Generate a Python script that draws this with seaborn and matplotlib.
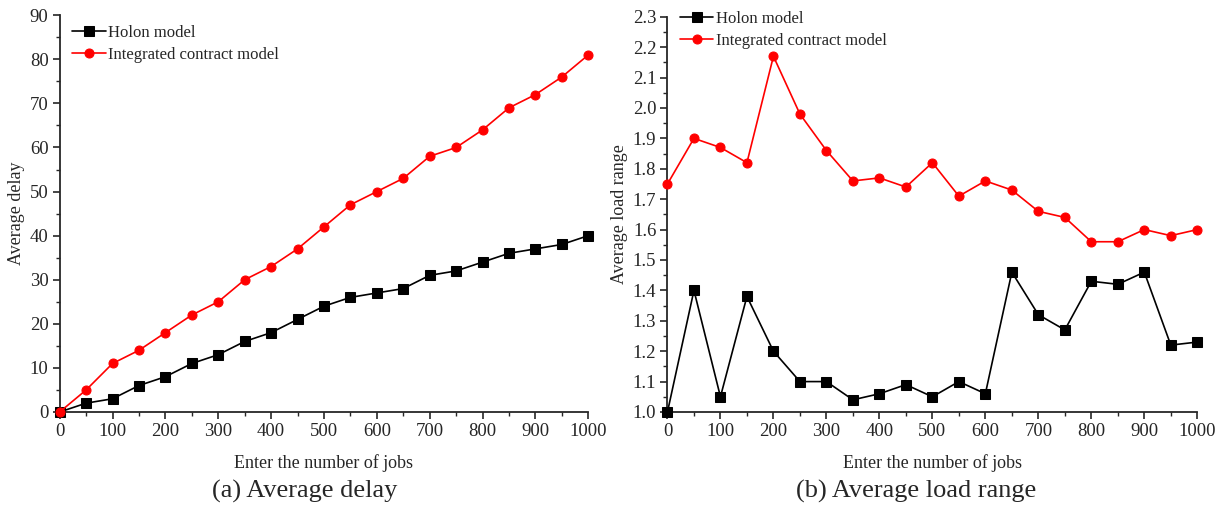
import numpy as np
import pandas as pd
import matplotlib
matplotlib.use('Agg')
import matplotlib.pyplot as plt
from matplotlib.ticker import MultipleLocator
import seaborn as sns

# Data
jobs = [0, 50, 100, 150, 200, 250, 300, 350, 400, 450, 500,
        550, 600, 650, 700, 750, 800, 850, 900, 950, 1000]

delay_holon = [0, 2, 3, 6, 8, 11, 13, 16, 18, 21, 24,
               26, 27, 28, 31, 32, 34, 36, 37, 38, 40]
delay_contract = [0, 5, 11, 14, 18, 22, 25, 30, 33, 37, 42,
                  47, 50, 53, 58, 60, 64, 69, 72, 76, 81]

load_holon = [1.00, 1.40, 1.05, 1.38, 1.20, 1.10, 1.10, 1.04, 1.06, 1.09, 1.05,
              1.10, 1.06, 1.46, 1.32, 1.27, 1.43, 1.42, 1.46, 1.22, 1.23]
load_contract = [1.75, 1.90, 1.87, 1.82, 2.17, 1.98, 1.86, 1.76, 1.77, 1.74, 1.82,
                 1.71, 1.76, 1.73, 1.66, 1.64, 1.56, 1.56, 1.60, 1.58, 1.60]

series_names = ['Holon model', 'Integrated contract model']

sns.set_style('ticks')
plt.rcParams['font.family'] = ['Liberation Serif', 'DejaVu Serif']
plt.rcParams['axes.linewidth'] = 1.3
plt.rcParams['xtick.direction'] = 'out'
plt.rcParams['ytick.direction'] = 'out'

fig = plt.figure(figsize=(12.18, 5.08), dpi=100)
ax1 = fig.add_axes([0.049, 0.189, 0.434, 0.781])
ax2 = fig.add_axes([0.548, 0.189, 0.435, 0.778])


def draw_panel(ax, holon, contract, ylim, major, minor, ylabel, fmt, legend_y, label_x):
    df = pd.DataFrame({'jobs': jobs * 2,
                       'value': list(holon) + list(contract),
                       'model': [series_names[0]] * len(jobs) + [series_names[1]] * len(jobs)})
    sns.lineplot(data=df, x='jobs', y='value', hue='model', style='model',
                 palette={series_names[0]: 'black', series_names[1]: '#ff0000'},
                 markers={series_names[0]: 's', series_names[1]: 'o'},
                 dashes=False, markersize=6.5,
                 linewidth=1.2, ax=ax, zorder=3)
    for line in ax.lines:
        line.set_clip_on(False)
        line.set_markeredgecolor(line.get_color())
    ax.set_xlim(0, 1000)
    ax.set_ylim(*ylim)
    ax.xaxis.set_major_locator(MultipleLocator(100))
    ax.xaxis.set_minor_locator(MultipleLocator(50))
    ax.yaxis.set_major_locator(MultipleLocator(major))
    ax.yaxis.set_minor_locator(MultipleLocator(minor))
    ax.yaxis.set_major_formatter(matplotlib.ticker.FormatStrFormatter(fmt))
    ax.tick_params(which='major', length=5, width=1.2, labelsize=13.5, pad=3)
    ax.tick_params(which='minor', length=3, width=1.0)
    ax.set_xlabel('Enter the number of jobs', fontsize=13, labelpad=10)
    ax.set_ylabel(ylabel, fontsize=13)
    ax.yaxis.set_label_coords(label_x, 0.5)
    sns.despine(ax=ax)
    leg = ax.legend(loc='upper left', frameon=False, fontsize=12, handlelength=2.0,
                    handletextpad=0.15, labelspacing=0.35, borderaxespad=0.2,
                    bbox_to_anchor=(0.005, legend_y))
    for h in leg.get_lines():
        h.set_markeredgecolor(h.get_color())


draw_panel(ax1, delay_holon, delay_contract, (0, 90), 10, 5, 'Average delay', '%d', 1.0, -0.065)
draw_panel(ax2, load_holon, load_contract, (1.0, 2.3), 0.1, 0.05, 'Average load range', '%.1f', 1.04, -0.075)

fig.text(0.250, 0.032, '(a) Average delay', ha='center', va='center', fontsize=19)
fig.text(0.752, 0.032, '(b) Average load range', ha='center', va='center', fontsize=19)

fig.savefig('out.png', dpi=100)
